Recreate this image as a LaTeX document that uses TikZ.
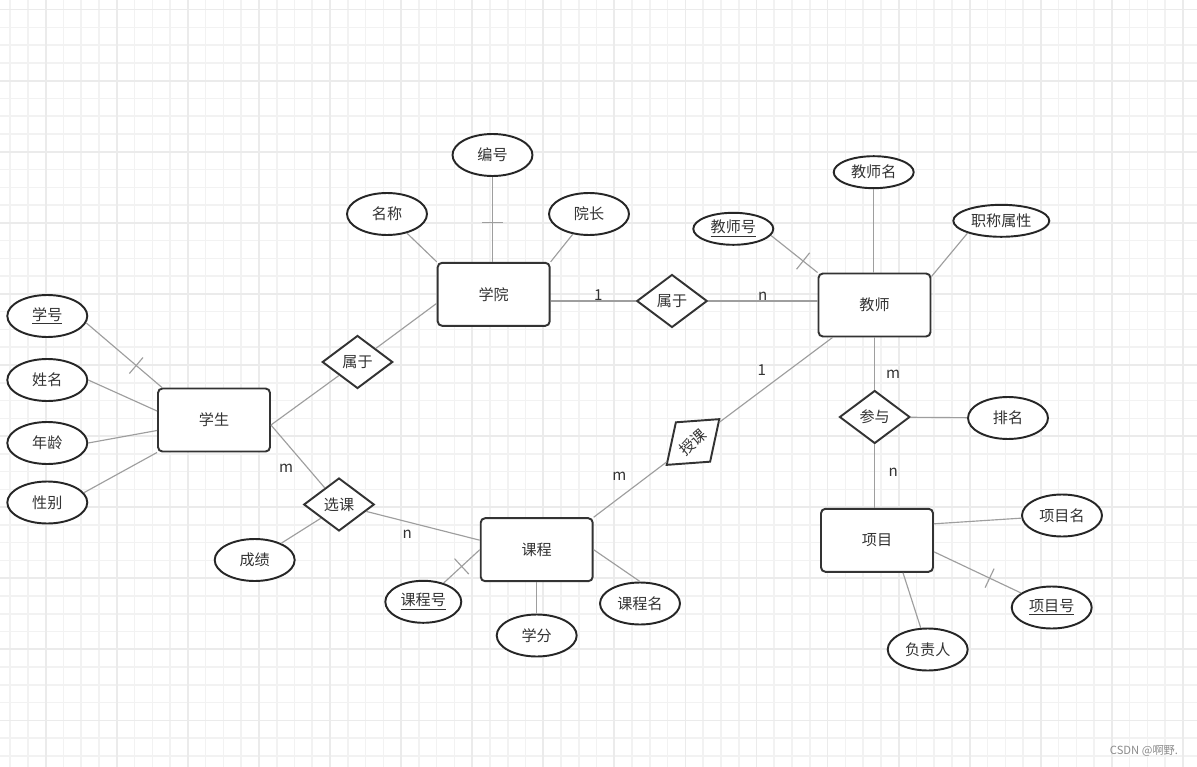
\documentclass[tikz,border=0pt]{standalone}
\usepackage{fontspec}
\setmainfont{Noto Sans CJK SC}
\usetikzlibrary{positioning, shapes.geometric, decorations.markings}

\begin{document}
\begin{tikzpicture}[x=0.02cm, y=-0.02cm, every node/.style={font=\fontsize{8.6}{10}\selectfont, text=black!80}]
  \tikzset{
    gridminor/.style={draw=black!5, line width=0.9pt},
    gridmajor/.style={draw=black!8, line width=1pt},
    entity/.style={draw=black!80, line width=1.1pt, fill=white, rounded corners=2.5pt, minimum width=2.24cm, minimum height=1.26cm, inner sep=0pt},
    attr/.style={ellipse, draw=black!85, line width=1.1pt, fill=white, minimum width=1.6cm, minimum height=0.84cm, inner sep=0pt},
    sattr/.style={attr, minimum height=0.64cm},
    rel/.style={diamond, draw=black!80, line width=1.1pt, fill=white, aspect=1.33, minimum width=1.41cm, minimum height=1.06cm, inner sep=0pt},
    link/.style={draw=black!38, line width=0.65pt},
    card/.style={inner sep=0pt},
    keytick/.style={postaction={decorate}, decoration={markings, mark=at position #1 with {\draw[link] (0,-0.21cm) -- (0,0.21cm);}}},
  }
  \useasboundingbox (0,0) rectangle (1197,767);
  \fill[white] (0,0) rectangle (1197,767);
  %% background grid
  \foreach \k in {0,...,67}{
    \pgfmathsetmacro\gx{10.16+17.77*\k}
    \draw[gridminor] (\gx,0) -- (\gx,767);
  }
  \foreach \k in {0,...,42}{
    \pgfmathsetmacro\gy{9.6+17.77*\k}
    \draw[gridminor] (0,\gy) -- (1197,\gy);
  }
  \foreach \k in {0,...,16}{
    \pgfmathsetmacro\gx{45.7+71.08*\k}
    \draw[gridmajor] (\gx,0) -- (\gx,767);
  }
  \foreach \k in {0,...,10}{
    \pgfmathsetmacro\gy{9.6+71.08*\k}
    \draw[gridmajor] (0,\gy) -- (1197,\gy);
  }

  %% entities
  \node[entity] (xs) at (214,420) {学生};
  \node[entity] (xy) at (493.7,294.3) {学院};
  \node[entity] (js) at (874.5,305) {教师};
  \node[entity] (kc) at (536.7,549.7) {课程};
  \node[entity] (xm) at (877,540.3) {项目};

  %% relations
  \node[rel] (sy1) at (357.5,362) {属于};
  \node[rel] (sy2) at (672,301) {属于};
  \node[rel] (xk) at (339,504.5) {选课};
  \node[rel] (cy) at (874.7,417) {参与};
  \node[rel, rotate=41] (sk) at (693,442) {授课};

  %% attributes
  \node[attr] (xh) at (47.3,316) {\underline{学号}};
  \node[attr] (xmg) at (47.3,380) {姓名};
  \node[attr] (nl) at (47.3,443) {年龄};
  \node[attr] (xb) at (47.3,502.5) {性别};
  \node[attr] (mc) at (387,214) {名称};
  \node[attr] (bh) at (492.5,155) {编号};
  \node[attr] (yz) at (589,214) {院长};
  \node[sattr] (jsh) at (733.3,228.8) {\underline{教师号}};
  \node[sattr] (jsm) at (873.7,172.2) {教师名};
  \node[sattr, minimum width=1.92cm] (zc) at (1001.3,220.8) {职称属性};
  \node[attr] (pm) at (1008,418) {排名};
  \node[attr] (xmm) at (1062,515.5) {项目名};
  \node[attr] (xmh) at (1051.7,607.5) {\underline{项目号}};
  \node[attr] (fzr) at (927.7,649.5) {负责人};
  \node[attr] (cj) at (254.7,560) {成绩};
  \node[attr, minimum width=1.52cm] (kch) at (423.3,601.8) {\underline{课程号}};
  \node[attr] (xf) at (536.7,635.5) {学分};
  \node[attr] (kcm) at (640,603.5) {课程名};

  %% connectors
  \draw[link, keytick=0.66] (xh.-10) -- ([xshift=0.1cm]xs.north west);
  \draw[link] (xmg.east) -- ([yshift=0.18cm]xs.west);
  \draw[link] (nl.east) -- ([yshift=-0.21cm]xs.west);
  \draw[link] (xb.15) -- (xs.south west);
  \coordinate (xse) at ([yshift=-0.1cm]xs.east);
  \draw[link] (xse) -- (sy1);
  \draw[link] (sy1) -- ([yshift=-0.18cm]xy.west);
  \draw[link] (xse) -- (xk);
  \draw[link] (xk.south west) -- (cj);
  \draw[link] (xk) -- ([yshift=0.19cm]kc.west);
  \draw[link, keytick=0.5] (kch) -- (kc.west);
  \draw[link] (xf) -- (kc);
  \draw[link] (kc.east) -- (kcm.north);
  \draw[link] (kc.north east) -- (sk);
  \draw[link] (sk) -- ([xshift=0.3cm]js.south west);
  \draw[link] (sy2) -- (sy2 -| xy.east);
  \draw[link] (sy2) -- (sy2 -| js.west);
  \draw[link] (mc) -- (xy.north west);
  \draw[link, keytick=0.54] (bh) -- (bh |- xy.north);
  \draw[link] (yz) -- (xy.north east);
  \draw[link, keytick=0.69] (jsh.-10) -- (js.north west);
  \draw[link] (jsm) -- (jsm |- js.north);
  \draw[link] (zc.-160) -- ([yshift=-0.08cm]js.north east);
  \draw[link] (cy) -- (cy |- js.south);
  \draw[link] (cy) -- (pm);
  \draw[link] (cy) -- (cy |- xm.north);
  \draw[link] ([yshift=0.33cm]xm.east) -- (xmm);
  \draw[link, keytick=0.64] ([yshift=-0.23cm]xm.east) -- (xmh);
  \draw[link] ([xshift=0.52cm]xm.south) -- (fzr);

  %% cardinalities
  \node[card] (c1) at (286,468) {m};
  \node[card] (c2) at (407.3,534) {n};
  \node[card] (c3) at (619.3,476) {m};
  \node[card] (c4) at (761.7,370) {1};
  \node[card] (c5) at (598.3,295) {1};
  \node[card] (c6) at (762.7,296) {n};
  \node[card] (c7) at (893,374) {m};
  \node[card] (c8) at (893.3,472.7) {n};

  \node[font=\fontsize{6.4}{8}\selectfont, text=black!45] (wm) at (1144,751) {CSDN @啊野.};
\end{tikzpicture}
\end{document}
